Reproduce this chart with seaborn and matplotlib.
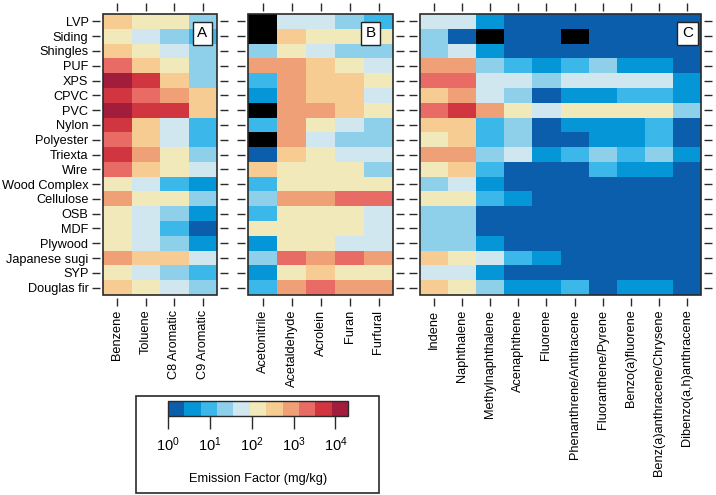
from matplotlib import pyplot as plt
from matplotlib.colors import ListedColormap, Normalize
from matplotlib.cm import ScalarMappable
from matplotlib.patches import Rectangle
import pandas as pd
import numpy as np
import seaborn as sns

plt.rcParams['font.family'] = ['Liberation Sans', 'DejaVu Sans']
plt.rcParams['mathtext.fontset'] = 'custom'
plt.rcParams['mathtext.rm'] = 'Liberation Sans'
plt.rcParams['mathtext.default'] = 'regular'

materials = ['LVP', 'Siding', 'Shingles', 'PUF', 'XPS', 'CPVC', 'PVC', 'Nylon', 'Polyester',
             'Triexta', 'Wire', 'Wood Complex', 'Cellulose', 'OSB', 'MDF', 'Plywood',
             'Japanese sugi', 'SYP', 'Douglas fir']

aromatics = ['Benzene', 'Toluene', 'C8 Aromatic', 'C9 Aromatic']
oxygenated = ['Acetonitrile', 'Acetaldehyde', 'Acrolein', 'Furan', 'Furfural']
pahs = ['Indene', 'Naphthalene', 'Methylnaphthalene', 'Acenaphthene', 'Fluorene',
        'Phenanthrene/Anthracene', 'Fluoranthene/Pyrene', 'Benzo(a)fluorene',
        'Benz(a)anthracene/Chrysene', 'Dibenzo(a,h)anthracene']

# emission factors, mg/kg (nan = not available, drawn black)
nan = np.nan
ef_aromatics = [
    [400, 150, 150, 25],
    [150, 60, 25, 10],
    [400, 150, 60, 25],
    [2500, 400, 150, 25],
    [15000, 6000, 400, 25],
    [6000, 2500, 1000, 400],
    [15000, 6000, 6000, 400],
    [6000, 400, 60, 10],
    [2500, 400, 60, 10],
    [6000, 1000, 150, 25],
    [2500, 400, 150, 60],
    [150, 60, 10, 4],
    [1000, 150, 150, 25],
    [150, 60, 25, 4],
    [150, 60, 10, 1.5],
    [150, 60, 25, 4],
    [1000, 400, 400, 60],
    [150, 60, 25, 10],
    [400, 150, 60, 25],
]
ef_oxygenated = [
    [nan, 60, 60, 25, 10],
    [nan, 400, 150, 150, 150],
    [25, 150, 60, 25, 25],
    [1000, 1000, 400, 150, 60],
    [10, 1000, 400, 400, 150],
    [4, 1000, 400, 400, 60],
    [nan, 1000, 1000, 400, 150],
    [10, 1000, 150, 60, 25],
    [nan, 1000, 60, 25, 25],
    [1.5, 400, 150, 60, 60],
    [400, 150, 150, 150, 25],
    [10, 150, 150, 150, 150],
    [25, 1000, 1000, 2500, 2500],
    [10, 150, 150, 150, 60],
    [150, 150, 150, 150, 60],
    [4, 150, 150, 60, 60],
    [25, 2500, 1000, 2500, 1000],
    [4, 150, 400, 150, 150],
    [10, 1000, 2500, 1000, 1000],
]
ef_pahs = [
    [60, 60, 4, 1.5, 1.5, 1.5, 1.5, 1.5, 1.5, 1.5],
    [25, 1.5, nan, 1.5, 1.5, nan, 1.5, 1.5, 1.5, 1.5],
    [25, 60, 4, 1.5, 1.5, 1.5, 1.5, 1.5, 1.5, 1.5],
    [1000, 1000, 25, 10, 4, 10, 25, 4, 4, 1.5],
    [2500, 2500, 60, 60, 25, 60, 60, 60, 60, 4],
    [400, 1000, 60, 25, 1.5, 4, 4, 10, 10, 4],
    [2500, 6000, 1000, 150, 60, 150, 150, 150, 150, 25],
    [400, 400, 10, 25, 1.5, 4, 4, 4, 10, 1.5],
    [150, 400, 10, 25, 1.5, 1.5, 4, 4, 10, 1.5],
    [1000, 1000, 25, 60, 4, 10, 25, 10, 25, 4],
    [150, 400, 10, 1.5, 1.5, 1.5, 10, 4, 4, 1.5],
    [25, 60, 4, 1.5, 1.5, 1.5, 1.5, 1.5, 1.5, 1.5],
    [150, 150, 10, 4, 1.5, 1.5, 1.5, 1.5, 1.5, 1.5],
    [25, 25, 1.5, 1.5, 1.5, 1.5, 1.5, 1.5, 1.5, 1.5],
    [25, 25, 1.5, 1.5, 1.5, 1.5, 1.5, 1.5, 1.5, 1.5],
    [25, 25, 4, 1.5, 1.5, 1.5, 1.5, 1.5, 1.5, 1.5],
    [400, 150, 60, 10, 4, 1.5, 1.5, 1.5, 1.5, 1.5],
    [60, 60, 4, 1.5, 1.5, 1.5, 1.5, 1.5, 1.5, 1.5],
    [400, 150, 25, 4, 4, 10, 1.5, 4, 4, 1.5],
]

colors = ['#0b5eab', '#0496d6', '#3cb7ea', '#8ed0ea', '#d0e7ef', '#f1e9b9',
          '#f7cc93', '#efa077', '#e96b65', '#d03540', '#a11d3b']
cmap = ListedColormap(colors)
vmin, vmax = 0, 4.3
frame_col = '#2a2a2a'

fig = plt.figure(figsize=(7.16, 4.95), dpi=100)
W, H = 716, 495


def add_ax(x0, x1, y0=14, y1=295):
    return fig.add_axes([x0 / W, 1 - y1 / H, (x1 - x0) / W, (y1 - y0) / H])


panels = [
    (ef_aromatics, aromatics, add_ax(103, 217), 'A', 0.87, True),
    (ef_oxygenated, oxygenated, add_ax(248, 393), 'B', 0.845, False),
    (ef_pahs, pahs, add_ax(420, 701), 'C', 0.952, False),
]

for vals, cols, ax, tag, tx, ylab in panels:
    df = pd.DataFrame(vals, index=materials, columns=cols)
    ax.set_facecolor('black')
    sns.heatmap(np.log10(df), cmap=cmap, vmin=vmin, vmax=vmax, cbar=False, ax=ax,
                xticklabels=cols, yticklabels=materials if ylab else False)
    for side in ['left', 'right', 'top', 'bottom']:
        ax.spines[side].set_position(('outward', 2.5))
        ax.spines[side].set_visible(False)
    ax.add_patch(Rectangle((0, 0), 1, 1, transform=ax.transAxes, fill=False,
                           ec=frame_col, lw=1.2, zorder=5, clip_on=False))
    ax.tick_params(axis='both', which='major', direction='out', length=6, width=1,
                   color=frame_col, labelsize=9.2, top=True, right=True,
                   left=True, bottom=True, labeltop=False, labelright=False,
                   labelleft=ylab, pad=2)
    if not ylab:
        ax.set_yticks(np.arange(len(materials)) + 0.5)
        ax.set_yticklabels([])
    plt.setp(ax.get_xticklabels(), rotation=90)
    plt.setp(ax.get_yticklabels(), rotation=0)
    ax.set(xlabel=None, ylabel=None)
    ax.text(tx, 0.932, tag, transform=ax.transAxes, ha='center', va='center',
            fontsize=11, zorder=6,
            bbox=dict(boxstyle='square,pad=0.3', fc='white', ec='#222222', lw=1))

# colorbar legend box
fig.patches.append(Rectangle((136 / W, 1 - 493 / H), (379 - 136) / W, (493 - 396) / H,
                             transform=fig.transFigure, fill=False, ec=frame_col, lw=1.2))
cax = fig.add_axes([168 / W, 1 - 416 / H, 180 / W, 15 / H])
cb = fig.colorbar(ScalarMappable(norm=Normalize(vmin, vmax), cmap=cmap), cax=cax,
                  orientation='horizontal', ticks=[0, 1, 2, 3, 4])
cb.minorticks_off()
cb.ax.set_xticklabels(['$10^{%d}$' % k for k in range(5)])
cb.ax.tick_params(length=9, width=1, color=frame_col, labelsize=10.5, pad=5)
cb.outline.set_edgecolor(frame_col)
cb.outline.set_linewidth(1)
cb.set_label('Emission Factor (mg/kg)', fontsize=9.2, labelpad=14)

fig.savefig('out.png', dpi=100)
